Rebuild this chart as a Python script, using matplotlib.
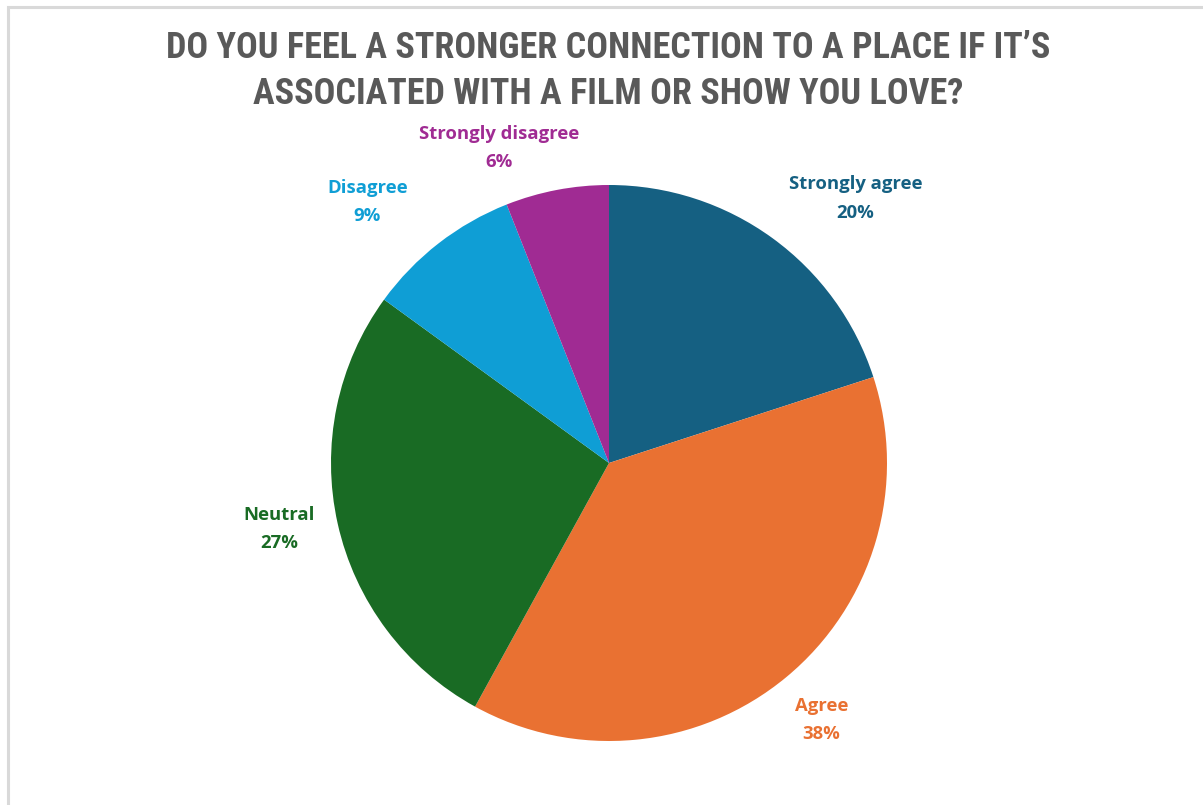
import numpy as np
import matplotlib
matplotlib.use("Agg")
import matplotlib.pyplot as plt
from matplotlib import font_manager as fm
from matplotlib.patches import Rectangle

# data
categories = ["Strongly agree", "Agree", "Neutral", "Disagree", "Strongly disagree"]
shares = [20, 38, 27, 9, 6]
colors = ["#156082", "#E97132", "#196B24", "#0F9ED5", "#A02B93"]
title = "DO YOU FEEL A STRONGER CONNECTION TO A PLACE IF IT\u2019S\nASSOCIATED WITH A FILM OR SHOW YOU LOVE?"

# label placement tweaks (radius in pie radii, angle shift in degrees)
label_dist = [1.30, 1.20, 1.21, 1.28, 1.20]
label_shift = [-7, 0, -1.3, 5, 8.4]

W, H = 1203, 805
fig = plt.figure(figsize=(W/100, H/100), dpi=100)

# light frame (only top/left visible in the screenshot)
fig.patches.append(Rectangle((7.5/W, -0.1), 1.2, (H - 7.5)/H + 0.1,
                             transform=fig.transFigure, fill=False,
                             edgecolor="#d9d9d9", linewidth=2.2))

cx, cy, r = 609, 463, 278
ax = fig.add_axes([(cx - r)/W, (H - cy - r)/H, 2*r/W, 2*r/H])

wedges, _ = ax.pie(shares, colors=colors, startangle=90, counterclock=False,
                   wedgeprops=dict(linewidth=0))
for w, c, s, col, d, sh in zip(wedges, categories, shares, colors, label_dist, label_shift):
    ang = np.deg2rad((w.theta1 + w.theta2) / 2 + sh)
    ax.text(d*np.cos(ang), d*np.sin(ang), "{}\n{}%".format(c, s),
            ha="center", va="center", color=col, fontsize=13.3, fontweight="bold",
            family=["Open Sans", "DejaVu Sans"], linespacing=1.75)
ax.set_xlim(-1, 1)
ax.set_ylim(-1, 1)

# condensed bold face for the title, whichever is installed
names = {f.name for f in fm.fontManager.ttflist}
tfam, tstretch = "DejaVu Sans", "condensed"
for n in ["Liberation Sans Narrow", "Roboto Condensed", "Open Sans Condensed"]:
    if n in names:
        tfam, tstretch = n, "normal"
        break

tt = fig.text(608/W, 1 - 71/H, title, ha="center", va="center", fontsize=25,
              fontweight="bold", color="#595959", linespacing=1.38,
              family=[tfam, "DejaVu Sans"], fontstretch=tstretch)
# fit title width to the reference (~885 px for the longer line)
fig.canvas.draw()
wpx = tt.get_window_extent().width
tt.set_fontsize(25 * 885 / wpx)

fig.savefig("out.png", dpi=100)
